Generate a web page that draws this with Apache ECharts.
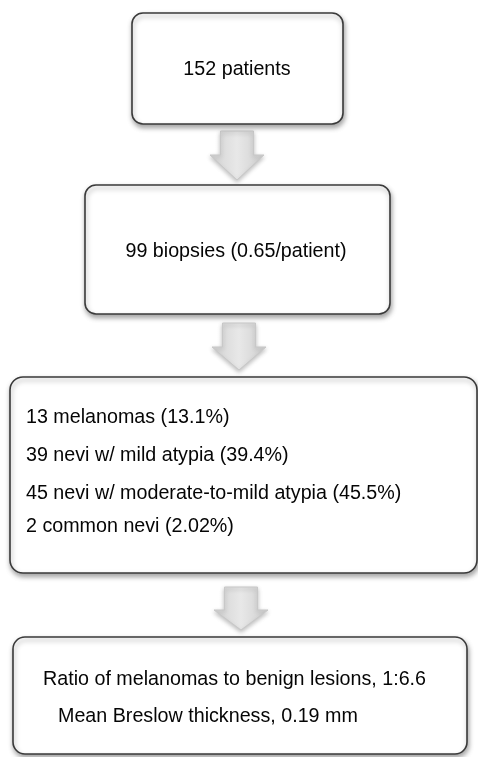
<!DOCTYPE html>
<html>
<head>
<meta charset="utf-8">
<script src="https://cdn.jsdelivr.net/npm/echarts@6/dist/echarts.min.js"></script>
<style>
html,body{margin:0;padding:0;background:#fff;}
#chart{width:478px;height:757px;}
</style>
</head>
<body>
<div id="chart"></div>
<script>
// Flowchart content
const step1Lines = ['152 patients'];
const step2Lines = ['99 biopsies (0.65/patient)'];
const step3Lines = [
  '13 melanomas (13.1%)',
  '39 nevi w/ mild atypia (39.4%)',
  '45 nevi w/ moderate-to-mild atypia (45.5%)',
  '2 common nevi (2.02%)'
];
const step4Lines = [
  'Ratio of melanomas to benign lesions, 1:6.6',
  'Mean Breslow thickness, 0.19 mm'
];

const FONT = '19.7px "Liberation Sans", Arial, Helvetica, sans-serif';
const TEXT_COLOR = '#050505';

// layout (positions/styles only)
const boxes = [
  {x:132, y:13, w:211, h:111, r:11, lines:step1Lines, align:'center', tx:[237], ty:[70]},
  {x:85, y:185, w:305, h:129, r:11, lines:step2Lines, align:'center', tx:[236], ty:[252]},
  {x:10, y:377, w:467, h:196, r:13, lines:step3Lines, align:'left', tx:[26,26,26,26], ty:[418,456,494,527]},
  {x:13, y:637, w:454, h:117, r:12, lines:step4Lines, align:'left', tx:[43,58], ty:[680,717]}
];
const arrows = [
  {cx:237, top:131, neck:155, tip:180},
  {cx:239, top:323, neck:347, tip:370},
  {cx:241, top:587, neck:610, tip:630}
];

const graphics = [];
arrows.forEach(a => {
  const sw = 16.5, hw = 27;
  graphics.push({
    type:'polygon',
    shape:{points:[[a.cx-sw,a.top],[a.cx+sw,a.top],[a.cx+sw,a.neck],[a.cx+hw,a.neck],[a.cx,a.tip],[a.cx-hw,a.neck],[a.cx-sw,a.neck]]},
    style:{
      fill:{type:'linear',x:0,y:0,x2:1,y2:0,colorStops:[
        {offset:0,color:'#d2d2d2'},{offset:0.5,color:'#e8e8e8'},{offset:1,color:'#cecece'}]},
      stroke:'#c8c8c8', lineWidth:1,
      shadowBlur:4, shadowOffsetX:0, shadowOffsetY:2, shadowColor:'rgba(0,0,0,0.25)'
    }
  });
});
boxes.forEach(b => {
  graphics.push({
    type:'rect',
    shape:{x:b.x, y:b.y, width:b.w, height:b.h, r:b.r},
    style:{fill:'#fff', stroke:'#3a3a3a', lineWidth:1.6,
      shadowBlur:5, shadowOffsetX:1, shadowOffsetY:3, shadowColor:'rgba(0,0,0,0.35)'}
  });
  b.lines.forEach((t,i) => {
    graphics.push({
      type:'text',
      style:{text:t, x:b.tx[i], y:b.ty[i], font:FONT, fill:TEXT_COLOR,
        align:b.align, verticalAlign:'middle'}
    });
  });
});

const chart = echarts.init(document.getElementById('chart'), null, {renderer:'canvas'});
chart.setOption({
  backgroundColor:'#ffffff',
  animation:false,
  graphic:{elements:graphics}
});
</script>
</body>
</html>
